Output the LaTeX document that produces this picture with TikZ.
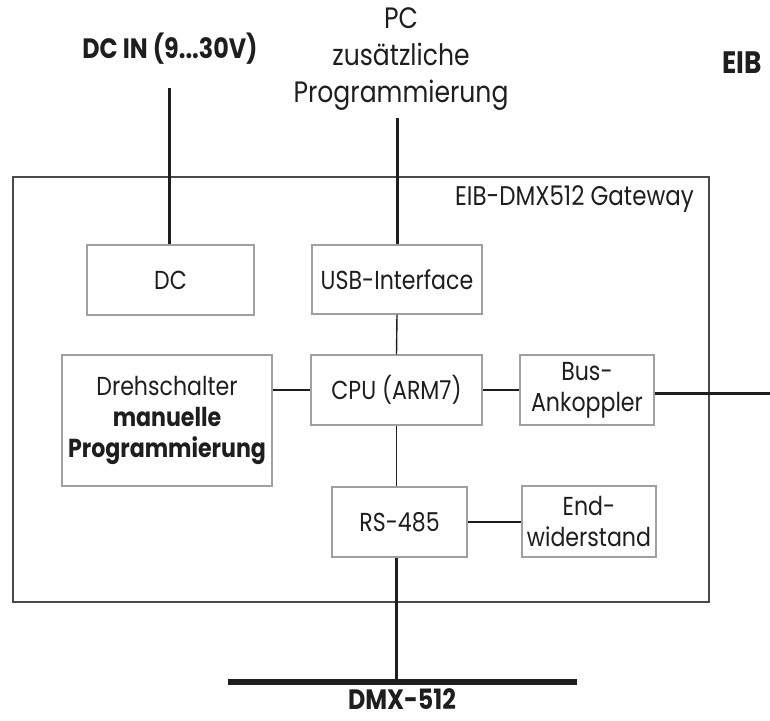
\documentclass[tikz,border=0pt]{standalone}
\usepackage{fontspec}
\setmainfont{Poppins}[FakeStretch=0.85]
\usepackage{tikz}
\usetikzlibrary{calc,positioning}
\definecolor{boxgray}{HTML}{A0A0A0}
\definecolor{framegray}{HTML}{4A4A4A}
\definecolor{inkdark}{HTML}{1E1E1E}
\tikzset{
  wire/.style={line width=1.4pt, draw=inkdark},
  bus/.style={line width=3pt, draw=inkdark},
  busbar/.style={line width=6.5pt, draw=inkdark},
  block/.style={draw=boxgray, line width=1.2pt, fill=white, align=center, inner sep=0pt,
    font=\fontsize{26}{31}\selectfont, text=inkdark},
  frame/.style={draw=framegray, line width=2pt, inner sep=0pt},
  extlabel/.style={font=\fontsize{28}{33}\selectfont\bfseries, text=inkdark, inner sep=0pt},
  every picture/.append style={baseline=(current bounding box.center)}
}

\begin{document}
\begin{tikzpicture}[x=1pt,y=-1pt]
  \useasboundingbox (0,0) rectangle (770,720);
  % gateway housing
  \node[frame, minimum width=696pt, minimum height=425pt] (gw) at (361,389.5) {};
  \node[anchor=east, inner sep=0pt, font=\fontsize{27}{30}\selectfont, text=inkdark] (gwname) at (694,199) {EIB-DMX512 Gateway};

  % function blocks
  \node[block, minimum width=167pt, minimum height=70pt] (dc) at (170.5,280) {DC};
  \node[block, minimum width=170pt, minimum height=69pt] (usb) at (397,279.5) {USB-Interface};
  \node[block, minimum width=210pt, minimum height=131pt] (dreh) at (167,420.5)
    {Drehschalter\\\textbf{manuelle}\\\textbf{Programmierung}};
  \node[block, minimum width=171pt, minimum height=70pt] (cpu) at (396.5,390) {CPU (ARM7)};
  \node[block, minimum width=134pt, minimum height=70pt] (bak) at (587,390) {Bus-\\Ankoppler};
  \node[block, minimum width=135pt, minimum height=70pt] (rs) at (399.5,522) {RS-485};
  \node[block, minimum width=134pt, minimum height=71pt] (endw) at (589,521.5) {End-\\widerstand};

  % outside connections
  \node[extlabel] (dcinname) at (170,49) {DC IN (9...30V)};
  \node[align=center, inner sep=0pt, font=\fontsize{29.5}{37}\selectfont, text=inkdark] (pcname) at (401,59)
    {PC\\zusätzliche\\Programmierung};
  \node[extlabel, font=\fontsize{31}{36}\selectfont\bfseries] (eibname) at (742,63) {EIB};
  \node[extlabel, anchor=base, font=\fontsize{28}{32}\selectfont\bfseries] (dmxname) at (402,709) {DMX-512};

  \coordinate (dcin) at (169,88);
  \coordinate (pcin) at (397,118);
  \coordinate (eib) at (770,393);
  \coordinate (dmxl) at (228,682);
  \coordinate (dmxr) at (577,682);

  \draw[bus] (dcin) -- (dcin |- dc.north);
  \draw[bus] (pcin) -- (usb.north);
  \draw[bus] (bak.east |- eib) -- (eib);
  \draw[busbar] (dmxl) -- (dmxr);
  \draw[bus] (cpu.south |- rs.south) -- (cpu.south |- dmxl);

  % internal wiring
  \draw[wire] (usb.south) -- (cpu.north);
  \draw[wire] (cpu.south) -- (cpu.south |- rs.north);
  \draw[wire] (dreh.east |- cpu) -- (cpu.west);
  \draw[wire] (cpu.east) -- (bak.west);
  \draw[wire] (rs.east) -- (endw.west |- rs.east);
\end{tikzpicture}
\end{document}
